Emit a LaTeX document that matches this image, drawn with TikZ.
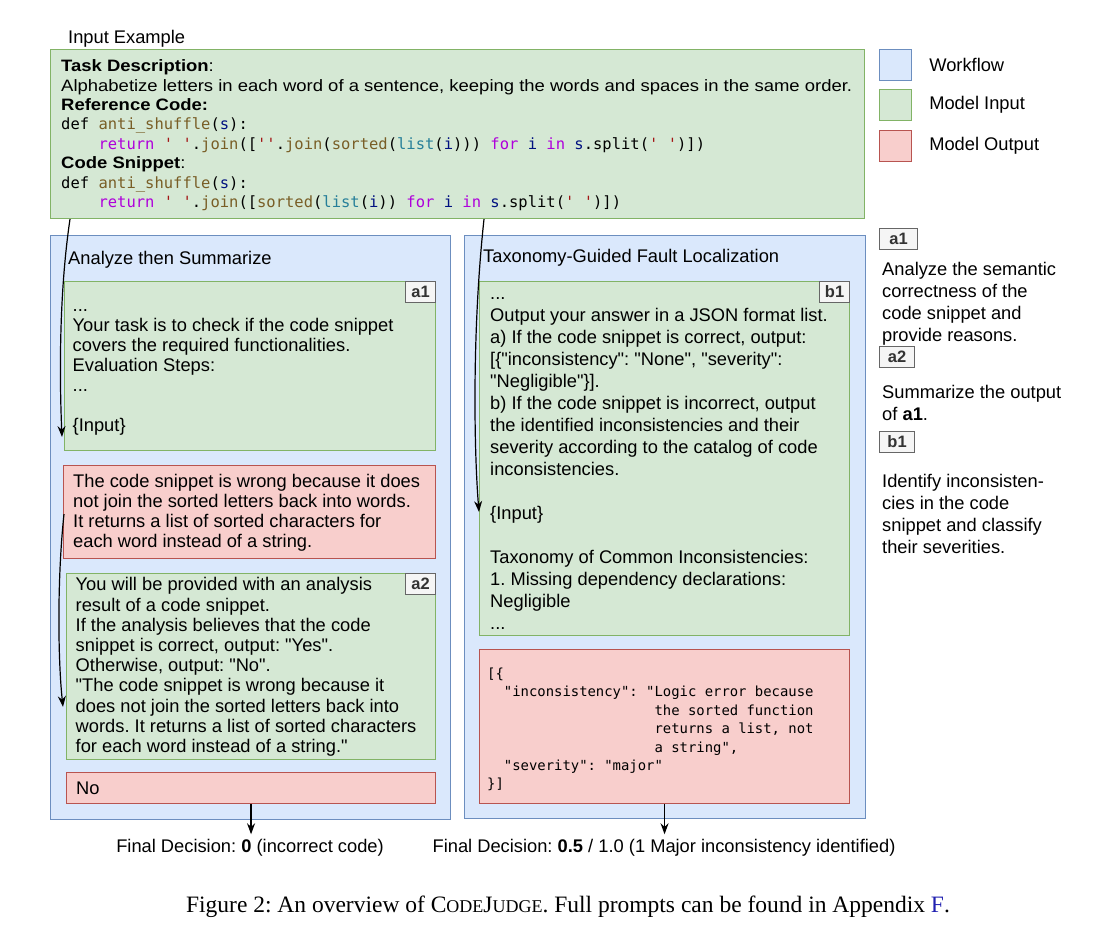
\documentclass[tikz,border=0pt]{standalone}
\usepackage{fontspec}
\setmainfont{Liberation Sans}
\setmonofont{DejaVu Sans Mono}
\newfontfamily\widesans[FakeStretch=1.12]{Liberation Sans}
\newfontfamily\capserif{Liberation Serif}
\usetikzlibrary{arrows.meta,calc,positioning}
\frenchspacing

\definecolor{wfFill}{HTML}{DAE8FC}
\definecolor{wfLine}{HTML}{6C8EBF}
\definecolor{inFill}{HTML}{D5E8D4}
\definecolor{inLine}{HTML}{82B366}
\definecolor{outFill}{HTML}{F8CECC}
\definecolor{outLine}{HTML}{B85450}
\definecolor{kwCol}{HTML}{AF00DB}
\definecolor{fnCol}{HTML}{795E26}
\definecolor{varCol}{HTML}{001080}
\definecolor{strCol}{HTML}{A31515}
\definecolor{typCol}{HTML}{267F99}
\definecolor{refBlue}{HTML}{2020B0}

\newcommand\ckw[1]{\textcolor{kwCol}{#1}}
\newcommand\cfn[1]{\textcolor{fnCol}{#1}}
\newcommand\cvar[1]{\textcolor{varCol}{#1}}
\newcommand\cstr[1]{\textcolor{strCol}{#1}}
\newcommand\ctyp[1]{\textcolor{typCol}{#1}}
\newcommand\sq{\textquotesingle}
\newcommand\dq{\textquotedbl}
\newcommand\codeline[1]{{\ttfamily\fontsize{15.5}{19.4}\selectfont #1}}

\tikzset{
  wfbox/.style={draw=wfLine,fill=wfFill,line width=1.1pt,anchor=north west,inner sep=0},
  inbox/.style={draw=inLine,fill=inFill,line width=1.1pt,anchor=north west,inner sep=0},
  outbox/.style={draw=outLine,fill=outFill,line width=1.1pt,anchor=north west,inner sep=0},
  tagbox/.style={draw=black!60,fill=black!4,line width=1.1pt,text=black!80,
    font=\bfseries\fontsize{16.5}{16.5}\selectfont,minimum width=30pt,minimum height=21pt,inner sep=0},
  txt/.style={anchor=north west,align=left,inner sep=0,font=\fontsize{18.3}{20}\selectfont},
  flow/.style={-{Stealth[length=11pt,width=8pt]},line width=1.2pt}
}

\begin{document}
\begin{tikzpicture}[x=1pt,y=-1pt]
\useasboundingbox (0,0) rectangle (1114,935);

% input example
\node[txt] (inplbl) at (68,29.5) {\strut Input Example};
\node[inbox,minimum width=814pt,minimum height=169pt] (inp) at (50,49) {};
\node[txt,font=\widesans\fontsize{16.5}{19.4}\selectfont] (inptxt) at (61,58) {\strut\textbf{Task Description}:\\
Alphabetize letters in each word of a sentence, keeping the words and spaces in the same order.\\
\textbf{Reference Code:}\\
\codeline{def \cfn{anti\_shuffle}(\cvar{s}):}\\
\codeline{\ \ \ \ \ckw{return} \cstr{\sq\ \sq}.\cfn{join}([\cstr{\sq\sq}.\cfn{join}(\cfn{sorted}(\ctyp{list}(\cvar{i}))) \ckw{for} \cvar{i} \ckw{in} \cvar{s}.split(\cstr{\sq\ \sq})])}\\
\textbf{Code Snippet}:\\
\codeline{def \cfn{anti\_shuffle}(\cvar{s}):}\\
\codeline{\ \ \ \ \ckw{return} \cstr{\sq\ \sq}.\cfn{join}([\cfn{sorted}(\ctyp{list}(\cvar{i})) \ckw{for} \cvar{i} \ckw{in} \cvar{s}.split(\cstr{\sq\ \sq})])}};

% legend
\node[wfbox,minimum width=32pt,minimum height=31pt] (legwf) at (879,49) {};
\node[inbox,minimum width=32pt,minimum height=31pt] (legin) at (879,89) {};
\node[outbox,minimum width=32pt,minimum height=31pt] (legout) at (879,130) {};
\node[right=17pt of legwf,inner sep=0,font=\fontsize{18.3}{22}\selectfont] (legwftxt) {Workflow};
\node[right=17pt of legin,inner sep=0,font=\fontsize{18.3}{22}\selectfont] (legintxt) {Model Input};
\node[right=17pt of legout,inner sep=0,font=\fontsize{18.3}{22}\selectfont] (legouttxt) {Model Output};

\node[tagbox,anchor=north west,minimum width=38pt] (legA) at (879,228) {a1};
\node[txt,font=\fontsize{18.3}{22}\selectfont] (legAtxt) at (882,260) {\strut Analyze the semantic\\correctness of the\\code snippet and\\provide reasons.};
\node[tagbox,anchor=north west,minimum width=35pt] (legB) at (879,346) {a2};
\node[txt,font=\fontsize{18.3}{22}\selectfont] (legBtxt) at (882,383) {\strut Summarize the output\\of \textbf{a1}.};
\node[tagbox,anchor=north west,minimum width=35pt] (legC) at (879,431) {b1};
\node[txt,font=\fontsize{18.3}{22}\selectfont] (legCtxt) at (882,472) {\strut Identify inconsisten-\\cies in the code\\snippet and classify\\their severities.};

% analyze then summarize
\node[wfbox,minimum width=400pt,minimum height=584pt] (wfA) at (50,235) {};
\node[txt] (wfAtitle) at (68,250.5) {\strut Analyze then Summarize};
\node[inbox,minimum width=371pt,minimum height=169pt] (a1box) at (64,281) {};
\node[tagbox,anchor=north east] (a1tag) at (a1box.north east) {a1};
\node[txt] (a1txt) at (72.5,297.5) {\strut ...\\Your task is to check if the code snippet\\covers the required functionalities.\\Evaluation Steps:\\...\\ \mbox{}\\\{Input\}};
\node[outbox,minimum width=372pt,minimum height=93pt] (out1) at (63,465) {};
\node[txt] (out1txt) at (73,473.5) {\strut The code snippet is wrong because it does\\not join the sorted letters back into words.\\It returns a list of sorted characters for\\each word instead of a string.};
\node[inbox,minimum width=369pt,minimum height=186pt] (a2box) at (66,573) {};
\node[tagbox,anchor=north east] (a2tag) at (a2box.north east) {a2};
\node[txt,font=\fontsize{18.3}{20.2}\selectfont] (a2txt) at (75.5,576.5) {\strut You will be provided with an analysis\\result of a code snippet.\\If the analysis believes that the code\\snippet is correct, output: \dq Yes\dq.\\Otherwise, output: \dq No\dq.\\\dq The code snippet is wrong because it\\does not join the sorted letters back into\\words. It returns a list of sorted characters\\for each word instead of a string.\dq};
\node[outbox,minimum width=369pt,minimum height=31pt] (nobox) at (66,772) {};
\node[txt] (notxt) at (76,780.5) {\strut No};

% taxonomy-guided fault localization
\node[wfbox,minimum width=401pt,minimum height=583pt] (wfB) at (464,235) {};
\node[txt] (wfBtitle) at (483,248.5) {\strut Taxonomy-Guided Fault Localization};
\node[inbox,minimum width=370pt,minimum height=354pt] (b1box) at (479,281) {};
\node[tagbox,anchor=north east] (b1tag) at (b1box.north east) {b1};
\node[txt,font=\fontsize{18.3}{22}\selectfont] (b1txt) at (490,284) {\strut ...\\Output your answer in a JSON format list.\\a) If the code snippet is correct, output:\\{[}\{\dq inconsistency\dq: \dq None\dq, \dq severity\dq:\\\dq Negligible\dq\}].\\b) If the code snippet is incorrect, output\\the identified inconsistencies and their\\severity according to the catalog of code\\inconsistencies.\\ \mbox{}\\\{Input\}\\ \mbox{}\\Taxonomy of Common Inconsistencies:\\1. Missing dependency declarations:\\Negligible\\...};
\node[outbox,minimum width=370pt,minimum height=154pt] (jsonbox) at (479,649) {};
\node[txt,font=\ttfamily\fontsize{13.9}{18.4}\selectfont] (jsontxt) at (487,665.5) {\strut [\{\\
\ \ "inconsistency": "Logic error because\\
\phantom{\ \ "inconsistency": "}the sorted function\\
\phantom{\ \ "inconsistency": "}returns a list, not\\
\phantom{\ \ "inconsistency": "}a string",\\
\ \ "severity": "major"\\
\}]};

% connectors
\coordinate (a1tip) at (62,437);
\coordinate (a2tip) at (63,707);
\coordinate (b1tip) at (479,512);
\draw[flow] ($(inp.south west)+(20,0)$) .. controls (58,300) and (60,390) .. (a1tip);
\draw[flow] ($(out1.west)+(1,2)$) .. controls (57,580) and (58,660) .. (a2tip);
\draw[flow] ($(inp.south west)+(434,0)$) .. controls (472,330) and (474,450) .. (b1tip);

% final decisions
\node[inner sep=0,font=\fontsize{18.3}{20}\selectfont] (dec1) at (250,848) {Final Decision: \textbf{0} (incorrect code)};
\node[inner sep=0,font=\fontsize{18.3}{20}\selectfont] (dec2) at (664,848) {Final Decision: \textbf{0.5} / 1.0 (1 Major inconsistency identified)};
\draw[flow,shorten >=5pt] (nobox.south) -- (dec1.north -| nobox.south);
\draw[flow,shorten >=5pt] (jsonbox.south) -- (dec2.north -| jsonbox.south);

% caption
\node[inner sep=0,font=\capserif\fontsize{23.5}{26}\selectfont] (caption) at (568,907) {Figure 2: An overview of C{\fontsize{18}{26}\selectfont ODE}J{\fontsize{18}{26}\selectfont UDGE}. Full prompts can be found in Appendix \textcolor{refBlue}{F}.};
\end{tikzpicture}
\end{document}
